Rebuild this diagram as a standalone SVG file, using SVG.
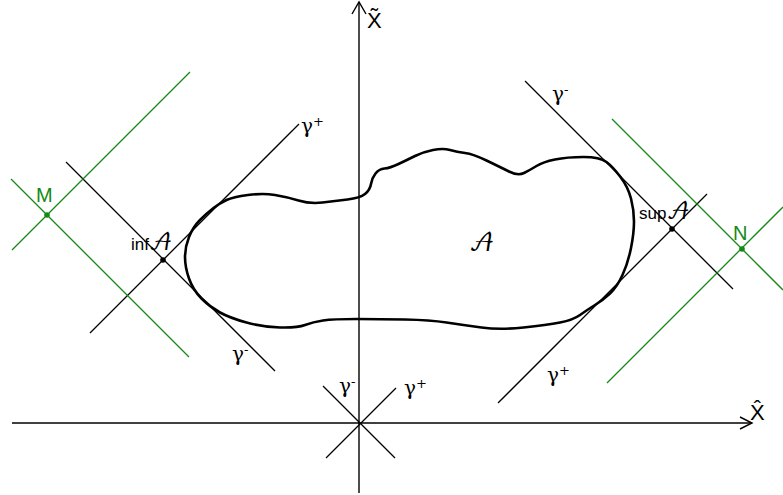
<svg xmlns="http://www.w3.org/2000/svg" width="783" height="495" viewBox="0 0 783 495">
<style>
.ax{stroke:#000;stroke-width:1.4;fill:none}
.bl{stroke:#000;stroke-width:1.3;fill:none}
.gr{stroke:#138a13;stroke-width:1.3;fill:none}
.blob{stroke:#000;stroke-width:2.6;fill:none;stroke-linejoin:round}
.g{font-family:"DejaVu Serif","Liberation Serif",serif;font-size:20px;fill:#000}
.sup{font-size:13px}
.lab{font-family:"Liberation Sans",Arial,sans-serif;fill:#000}
.scr{font-family:"DejaVu Math TeX Gyre","DejaVu Serif","DejaVu Sans",serif;fill:#000}
.grt{font-family:"Liberation Sans",Arial,sans-serif;font-size:20px;fill:#138a13}
</style>
<rect width="783" height="495" fill="#fff"/>
<g id="connectors">
<g id="axes">
<line class="ax" x1="12" y1="423" x2="752" y2="423"/>
<polyline class="ax" points="740,417 752,423 740,429"/>
<line class="ax" x1="359" y1="493" x2="359" y2="2"/>
<polyline class="ax" points="352,14 359,2 366,14"/>
<line class="bl" x1="323" y1="386" x2="395" y2="458"/>
<line class="bl" x1="326" y1="458" x2="396" y2="388"/>
</g>
<g id="left-lines">
<line class="bl" x1="66" y1="162" x2="275" y2="371"/>
<line class="bl" x1="90" y1="333" x2="299" y2="124"/>
<line class="gr" x1="12" y1="250" x2="190" y2="72"/>
<line class="gr" x1="11" y1="179" x2="189" y2="357"/>
</g>
<g id="right-lines">
<line class="bl" x1="525" y1="81" x2="733" y2="289"/>
<line class="bl" x1="498" y1="403" x2="707" y2="194"/>
<line class="gr" x1="612" y1="119" x2="783" y2="290"/>
<line class="gr" x1="607" y1="383" x2="783" y2="207"/>
</g>
</g>
<g id="set-A">
<path class="blob" d="M189,237 Q193,227 200,220 Q207,213 213.5,208 Q220,203 226.5,200 Q233,197 248,195 Q263,193 275,195 Q287,197 298.5,200.5 Q310,204 322.5,202.5 Q335,201 347.5,199.5 Q360,198 365,194 Q370,190 371,184 Q372,178 375.5,173.5 Q379,169 384.5,168.5 Q390,168 398.5,164 Q407,160 415,156 Q423,152 433,150 Q443,148 450,150 Q457,152 465,153 Q473,154 486.5,160.5 Q500,167 509,171.5 Q518,176 524,173 Q530,170 536.5,166 Q543,162 555,159.5 Q567,157 583.5,157 Q600,157 606.5,162 Q613,167 620.5,177 Q628,187 631,198.5 Q634,210 634,221.5 Q634,233 631,248 Q628,263 622.5,275 Q617,287 610,293.5 Q603,300 595,305 Q587,310 580,315 Q573,320 560,322.5 Q547,325 523.5,327.5 Q500,330 481.5,327.5 Q463,325 446.5,322.5 Q430,320 405,319.5 Q380,319 356.5,319 Q333,319 323,320.5 Q313,322 305,325 Q297,328 280,327.5 Q263,327 246.5,322.5 Q230,318 220,312.5 Q210,307 201.5,298.5 Q193,290 189,278.5 Q185,267 185,257 Q185,247 189,237 Z"/>
<text class="scr" x="469" y="251" font-size="24">𝒜</text>
</g>
<g id="point-inf">
<circle cx="163" cy="260" r="2.8" fill="#000"/>
<text class="lab" x="131" y="250" font-size="17">inf<tspan class="scr" font-size="22">𝒜</tspan></text>
</g>
<g id="point-sup">
<circle cx="672" cy="229" r="2.8" fill="#000"/>
<text class="lab" x="639" y="219" font-size="17">sup<tspan class="scr" font-size="22">𝒜</tspan></text>
</g>
<g id="point-M">
<circle cx="47" cy="215" r="2.8" fill="#138a13"/>
<text class="grt" x="36" y="202">M</text>
</g>
<g id="point-N">
<circle cx="742" cy="249" r="2.8" fill="#138a13"/>
<text class="grt" x="733" y="240">N</text>
</g>
<g id="gamma-labels">
<text class="g" x="301" y="133">γ<tspan class="sup" dy="-7">+</tspan></text>
<text class="g" x="232" y="361">γ<tspan class="sup" dy="-7">-</tspan></text>
<text class="g" x="552" y="101">γ<tspan class="sup" dy="-7">-</tspan></text>
<text class="g" x="547" y="382">γ<tspan class="sup" dy="-7">+</tspan></text>
<text class="g" x="339" y="393">γ<tspan class="sup" dy="-7">-</tspan></text>
<text class="g" x="404" y="395">γ<tspan class="sup" dy="-7">+</tspan></text>
</g>
<g id="axis-labels">
<text class="lab" x="367" y="28" font-size="22">X̃</text>
<text class="lab" x="750" y="420" font-size="22">X̂</text>
</g>
</svg>
